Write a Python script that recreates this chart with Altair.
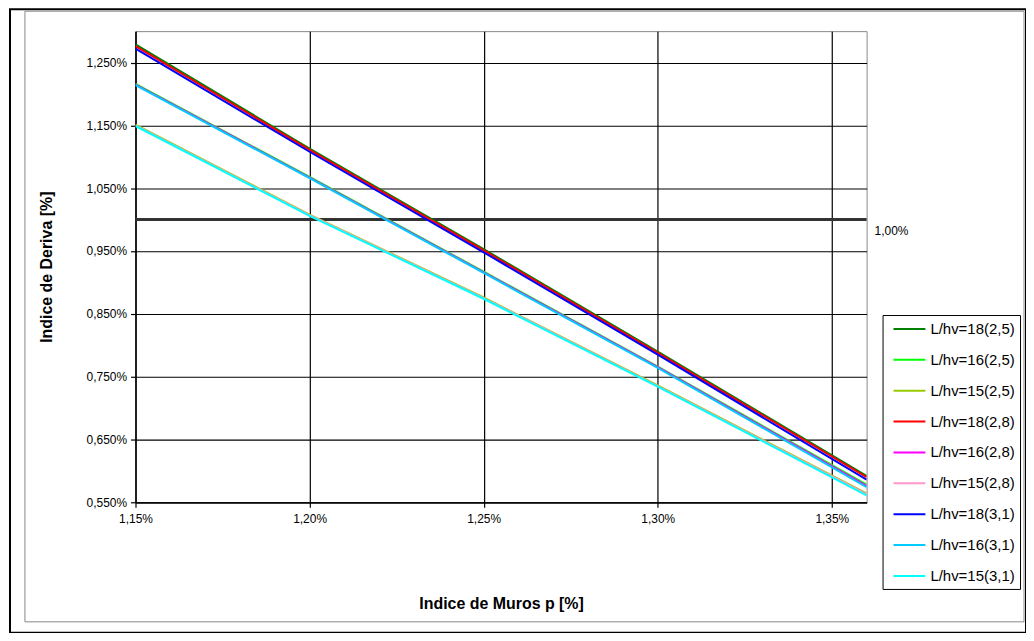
import altair as alt
import pandas as pd

# ---- data ----
x_vals = [1.15, 1.20, 1.25, 1.30, 1.36]
series_names = [
    "L/hv=18(2,5)", "L/hv=16(2,5)", "L/hv=15(2,5)",
    "L/hv=18(2,8)", "L/hv=16(2,8)", "L/hv=15(2,8)",
    "L/hv=18(3,1)", "L/hv=16(3,1)", "L/hv=15(3,1)",
]
series_colors = [
    "#008000", "#00FF00", "#99CC00",
    "#FF0000", "#FF00FF", "#FF99CC",
    "#0000FF", "#00CCFF", "#00FFFF",
]
s18_25 = [1.279, 1.113, 0.953, 0.790, 0.592]
s16_25 = [1.216, 1.068, 0.917, 0.766, 0.578]
s15_25 = [1.151, 1.008, 0.876, 0.736, 0.564]
s18_28 = [1.276, 1.111, 0.951, 0.788, 0.590]
s16_28 = [1.215, 1.067, 0.916, 0.765, 0.576]
s15_28 = [1.150, 1.007, 0.875, 0.735, 0.563]
s18_31 = [1.272, 1.108, 0.948, 0.785, 0.586]
s16_31 = [1.214, 1.066, 0.915, 0.764, 0.574]
s15_31 = [1.149, 1.006, 0.874, 0.734, 0.561]
series_values = [s18_25, s16_25, s15_25, s18_28, s16_28, s15_28, s18_31, s16_31, s15_31]

x_ticks = [1.15, 1.20, 1.25, 1.30, 1.35]
y_ticks = [0.55, 0.65, 0.75, 0.85, 0.95, 1.05, 1.15, 1.25]
limit_value = [1.00]
limit_label = ["1,00%"]

rows = []
for name, vals in zip(series_names, series_values):
    for xv, yv in zip(x_vals, vals):
        rows.append({"p": xv, "deriva": yv, "serie": name})
df = pd.DataFrame(rows)

FONT = "Liberation Sans"
W, H = 734, 473

x_enc = alt.X("p:Q", scale=alt.Scale(domain=[1.15, 1.36], nice=False, zero=False),
              axis=alt.Axis(values=x_ticks, title="Indice de Muros p [%]", labelFlush=False,
                            labelExpr="replace(format(datum.value, '.2f'), '.', ',') + '%'"))
y_enc = alt.Y("deriva:Q", scale=alt.Scale(domain=[0.55, 1.30], nice=False, zero=False),
              axis=alt.Axis(values=y_ticks, title="Indice de Deriva [%]", labelFlush=False,
                            labelExpr="replace(format(datum.value, '.3f'), '.', ',') + '%'"))

lines = alt.Chart(df).mark_line(strokeWidth=2, clip=True).encode(
    x=x_enc,
    y=y_enc,
    color=alt.Color("serie:N", sort=series_names,
                    scale=alt.Scale(domain=series_names, range=series_colors),
                    legend=alt.Legend(title=None)),
    order=alt.Order("p:Q"),
)

limit_df = pd.DataFrame({"v": limit_value, "label": limit_label})
limit_rule = alt.Chart(limit_df).mark_rule(color="#333333", strokeWidth=3).encode(
    y=alt.Y("v:Q"),
)
limit_text = alt.Chart(limit_df).mark_text(
    align="left", baseline="middle", dx=8, dy=11, font=FONT, fontSize=12, color="black", clip=False
).encode(
    x=alt.value(W),
    y=alt.Y("v:Q"),
    text="label:N",
)

# decorative chart frames (outer black, inner grey)
frame_df = pd.DataFrame({"k": [0]})
outer_frame = alt.Chart(frame_df).mark_rect(
    fill=None, stroke="black", strokeWidth=2, clip=False
).encode(x=alt.value(-126), x2=alt.value(894), y=alt.value(-22), y2=alt.value(604))
inner_frame = alt.Chart(frame_df).mark_rect(
    fill=None, stroke="#888888", strokeWidth=1, clip=False
).encode(x=alt.value(-111), x2=alt.value(892), y=alt.value(-20), y2=alt.value(593))

chart = alt.layer(outer_frame, inner_frame, limit_rule, lines, limit_text).properties(
    width=W, height=H,
    autosize=alt.AutoSizeParams(type="none"),
    padding={"left": 128, "top": 22, "right": 160, "bottom": 130},
    background="white",
).configure_view(
    stroke="#888888", strokeWidth=1
).configure_axis(
    labelFont=FONT, labelFontSize=12, labelColor="black",
    titleFont=FONT, titleFontSize=16, titleFontWeight="bold", titleColor="black",
    grid=True, gridColor="black", gridOpacity=1, gridWidth=1.2,
    domainColor="black", domainWidth=1.2,
    tickColor="black", tickSize=5, tickWidth=1.2,
).configure_axisY(
    labelPadding=4, titlePadding=32,
).configure_axisX(
    labelPadding=6, titlePadding=72,
).configure_legend(
    orient="none", legendX=750, legendY=285,
    strokeColor="black", fillColor="white", padding=5,
    labelFont=FONT, labelFontSize=15, labelColor="black",
    symbolType="M-1,0L3,0", symbolSize=256, symbolStrokeWidth=2, symbolOffset=5,
    labelOffset=20, rowPadding=14,
)

chart.save("out.html", embed_options={"renderer": "svg", "actions": False})
